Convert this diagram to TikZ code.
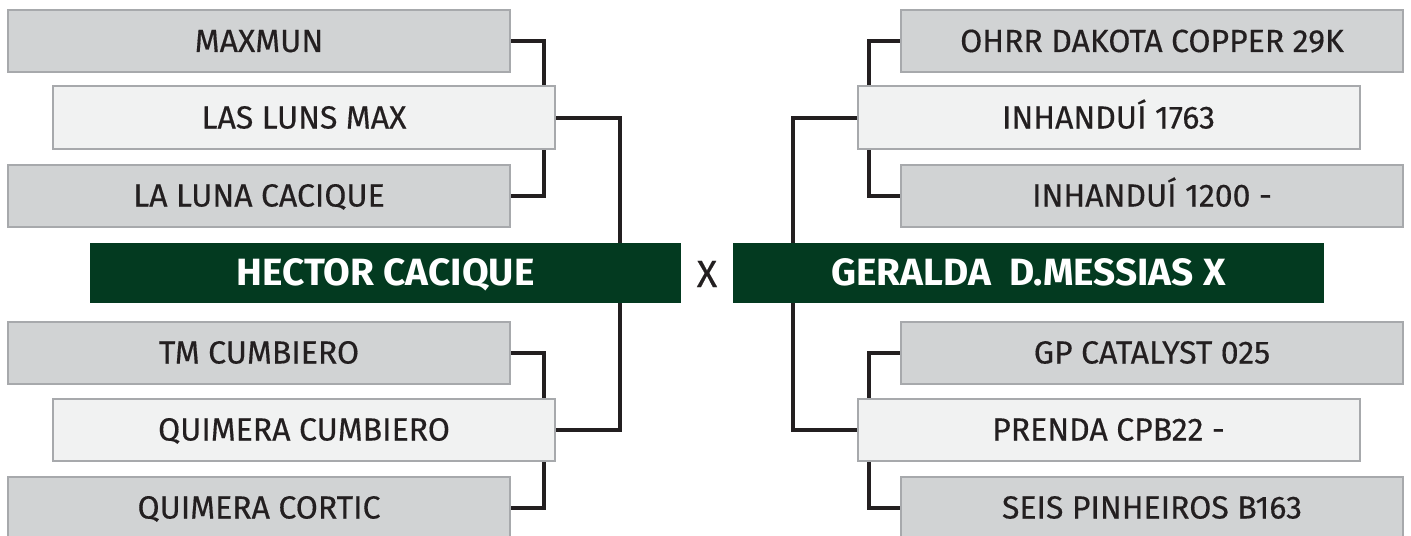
\documentclass[tikz,border=0pt]{standalone}
\usepackage{fontspec}
\setmainfont{Fira Sans}[UprightFeatures={FakeBold=0.4},
  BoldFeatures={FakeStretch=1.02}]
\usetikzlibrary{backgrounds, positioning}
\definecolor{boxgray}{RGB}{209,211,212}
\definecolor{boxlight}{RGB}{241,242,242}
\definecolor{boxedge}{RGB}{167,169,172}
\definecolor{finalgreen}{RGB}{3,58,32}
\definecolor{linkblack}{RGB}{35,31,32}
\tikzset{
  entry/.style={draw=boxedge, line width=1pt, fill=boxgray, minimum width=251pt, minimum height=31pt,
    inner sep=0pt, text height=11pt, text depth=0pt, text=linkblack, font=\fontsize{16}{19}\selectfont},
  seed/.style={entry, fill=boxlight},
  finalist/.style={fill=finalgreen, minimum width=295.5pt, minimum height=30pt, inner sep=0pt,
    text height=13.1pt, text depth=0pt, text=white, font=\bfseries\fontsize{19}{23}\selectfont},
  link/.style={draw=linkblack, line width=2pt}
}

\begin{document}
\begin{tikzpicture}[x=0.5pt, y=-0.5pt]

\useasboundingbox (0,0) rectangle (1411,535);
\clip (0,0) rectangle (1411,535);

% left half
\node[entry] (maxmun) at (259,41) {MAXMUN};
\node[seed] (lasluns) at (304,117.5) {LAS LUNS MAX};
\node[entry] (laluna) at (259,195.5) {LA LUNA CACIQUE};
\node[finalist] (hector) at (385.5,272.5) {HECTOR CACIQUE};
\node[entry] (tmcumb) at (259,352.5) {TM CUMBIERO};
\node[seed] (quimcumb) at (304,429.5) {QUIMERA CUMBIERO};
\node[entry] (quimcort) at (259,507.5) {QUIMERA CORTIC};

\node[text=linkblack, inner sep=0pt, text height=13.1pt, text depth=0pt,
  font=\fontsize{19}{23}\selectfont] (versus) at (707,274) {X};

% right half
\node[entry] (ohrr) at (1152,41) {OHRR DAKOTA COPPER 29K};
\node[seed] (inhA) at (1108.5,117.5) {INHANDUÍ 1763};
\node[entry] (inhB) at (1152,195.5) {INHANDUÍ 1200 -};
\node[finalist] (geralda) at (1028.5,272.5) {GERALDA\ \ D.MESSIAS X};
\node[entry] (gpcat) at (1152,352.5) {GP CATALYST 025};
\node[seed] (prenda) at (1108.5,429.5) {PRENDA CPB22 -};
\node[entry] (seis) at (1152,507.5) {SEIS PINHEIROS B163};

\begin{scope}[on background layer]
\draw[link] (maxmun.east) -- ++(33,0) |- (laluna.east);
\draw[link] (tmcumb.east) -- ++(33,0) |- (quimcort.east);
\draw[link] (lasluns.east) -- ++(64,0) |- (quimcumb.east);
\draw[link] (ohrr.west) -- ++(-31,0) |- (inhB.west);
\draw[link] (gpcat.west) -- ++(-31,0) |- (seis.west);
\draw[link] (inhA.west) -- ++(-64,0) |- (prenda.west);
\end{scope}

\end{tikzpicture}
\end{document}
